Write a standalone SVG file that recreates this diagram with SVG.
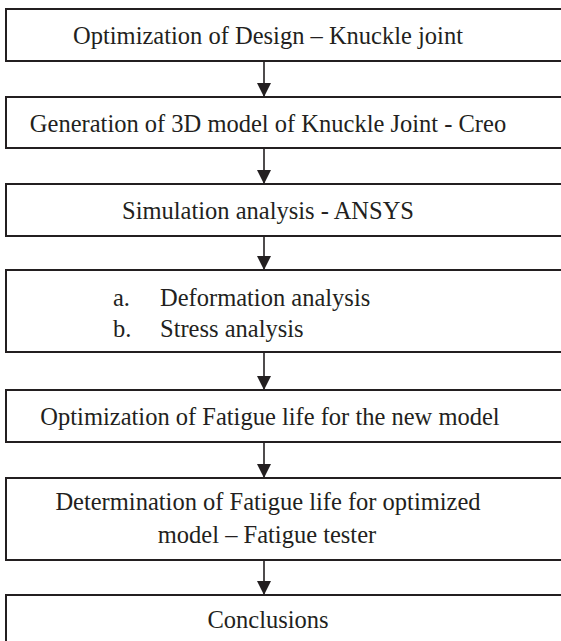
<svg xmlns="http://www.w3.org/2000/svg" width="561" height="641" viewBox="0 0 561 641">
<style>
.box{fill:#fff;stroke:#231f20;stroke-width:2}
.t{font-family:'Liberation Serif','Times New Roman',serif;font-size:24.5px;fill:#231f20}
.c{text-anchor:middle}
.ln{stroke:#231f20;stroke-width:1.6;fill:none}
</style>
<defs>
<marker id="ah" viewBox="0 0 14 15" refX="14" refY="7.5" markerWidth="15" markerHeight="14" markerUnits="userSpaceOnUse" orient="auto">
<path d="M0,0 L15,7.5 L0,15 Z" fill="#231f20"/>
</marker>
</defs>
<rect width="561" height="641" fill="#fff"/>
<g id="connectors">
<line class="ln" x1="264" y1="62" x2="264" y2="96" marker-end="url(#ah)"/>
<line class="ln" x1="264" y1="149" x2="264" y2="183" marker-end="url(#ah)"/>
<line class="ln" x1="264" y1="237" x2="264" y2="269" marker-end="url(#ah)"/>
<line class="ln" x1="264" y1="353" x2="264" y2="389" marker-end="url(#ah)"/>
<line class="ln" x1="264" y1="443" x2="264" y2="477" marker-end="url(#ah)"/>
<line class="ln" x1="264" y1="561" x2="264" y2="594" marker-end="url(#ah)"/>
</g>
<g id="n1">
<rect class="box" x="6" y="9" width="570" height="52"/>
<text class="t c" x="268" y="44">Optimization of Design – Knuckle joint</text>
</g>
<g id="n2">
<rect class="box" x="6" y="97" width="570" height="51"/>
<text class="t c" x="268" y="132">Generation of 3D model of Knuckle Joint - Creo</text>
</g>
<g id="n3">
<rect class="box" x="6" y="184" width="570" height="52"/>
<text class="t c" x="268" y="219">Simulation analysis - ANSYS</text>
</g>
<g id="n4">
<rect class="box" x="6" y="270" width="570" height="82"/>
<text class="t" x="113" y="306">a.</text>
<text class="t" x="160" y="306">Deformation analysis</text>
<text class="t" x="113" y="337">b.</text>
<text class="t" x="160" y="337">Stress analysis</text>
</g>
<g id="n5">
<rect class="box" x="6" y="390" width="570" height="52"/>
<text class="t c" x="270" y="425">Optimization of Fatigue life for the new model</text>
</g>
<g id="n6">
<rect class="box" x="6" y="478" width="570" height="82"/>
<text class="t c" x="268" y="510">Determination of Fatigue life for optimized</text>
<text class="t c" x="267" y="543">model – Fatigue tester</text>
</g>
<g id="n7">
<rect class="box" x="6" y="595" width="570" height="60"/>
<text class="t c" x="268" y="628">Conclusions</text>
</g>
</svg>
